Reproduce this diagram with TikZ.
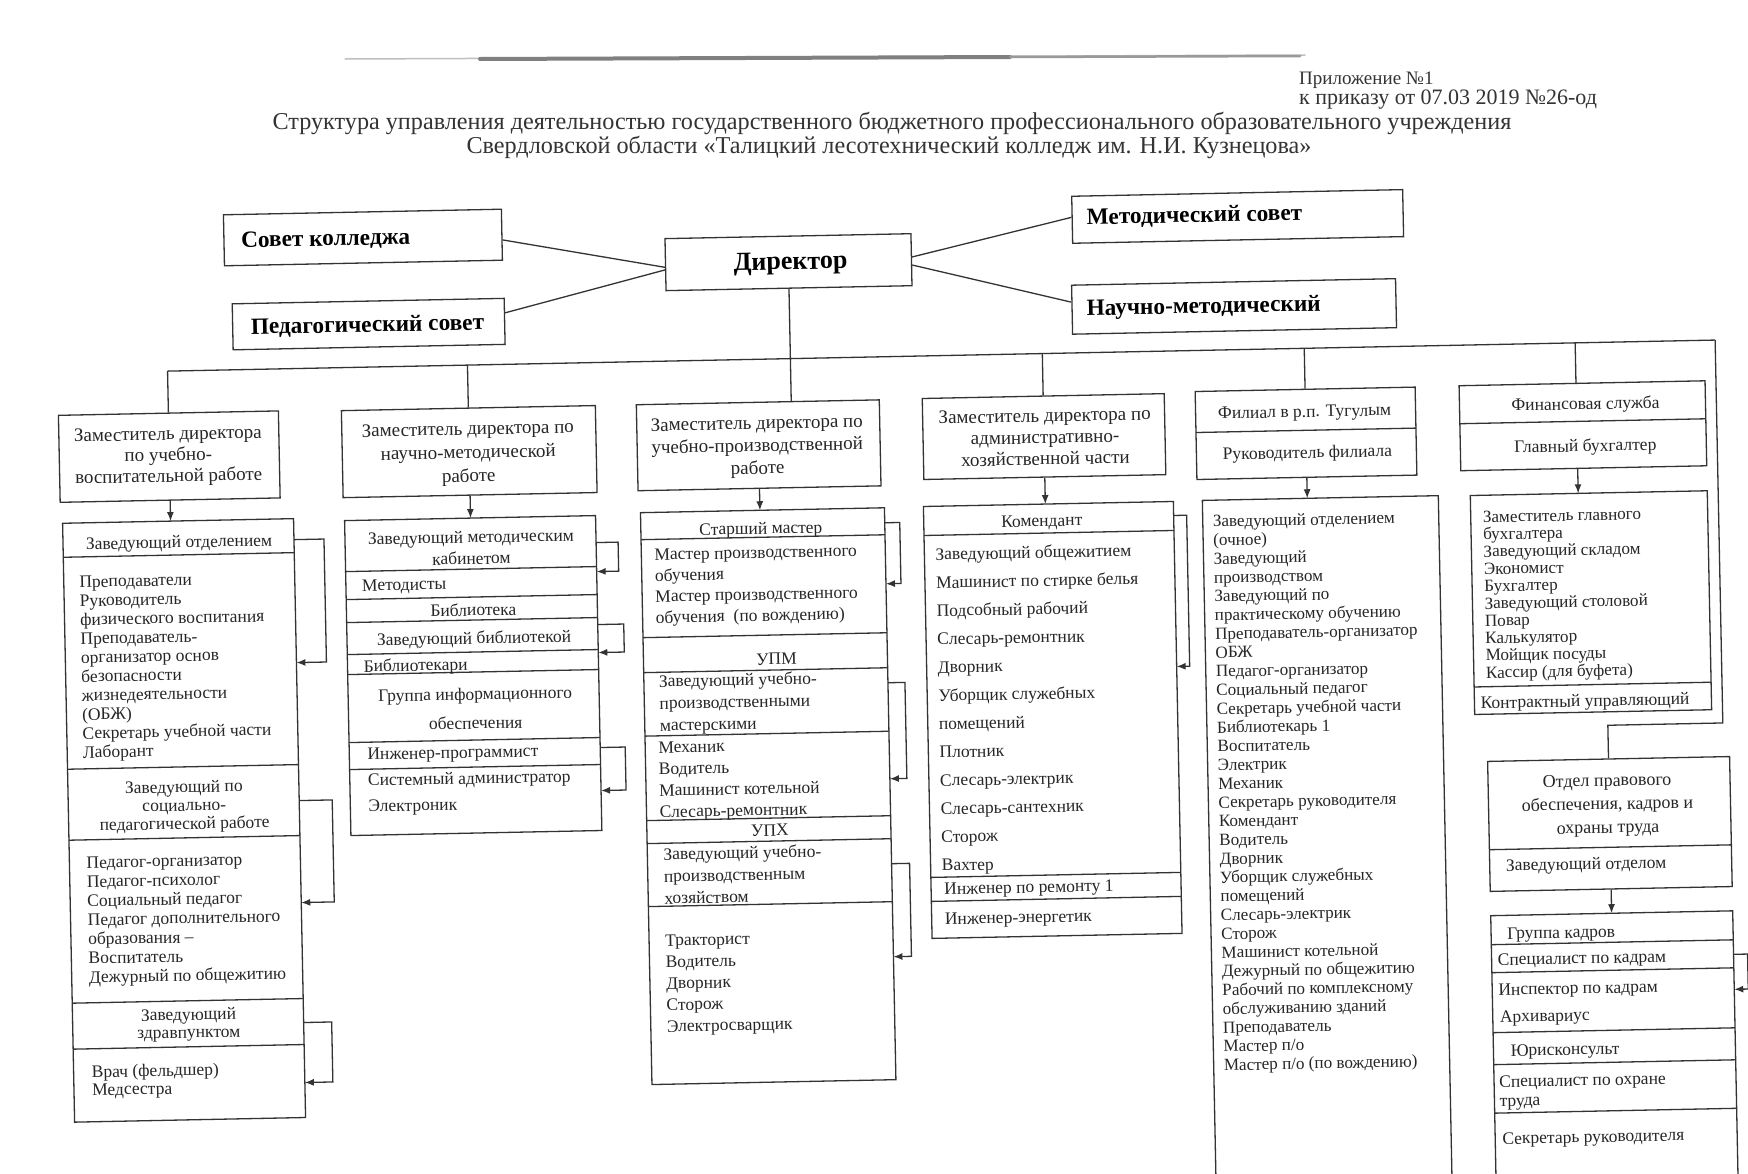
\documentclass[tikz,border=0pt]{standalone}
\usepackage{fontspec}
\setmainfont{Liberation Serif}
\usetikzlibrary{arrows.meta,calc}
\newcommand\tlines[6]{%
  \foreach \mytxt [count=\myi from 0] in {#6}{%
    \node[#2] (#1\myi) at (#3,{#4+\myi*#5}) {\mytxt};}}
\begin{document}
\begin{tikzpicture}[x=1pt,y=-1pt,
  ln/.style={line width=1.3pt, draw=black!80},
  box/.style={ln, rectangle, inner sep=0pt},
  arr/.style={ln, -{Latex[length=9pt,width=7pt]}},
  tx/.style={inner sep=0pt, yshift=-4.5pt, text=black!85, font=\fontsize{17.5}{18}\selectfont},
  txw/.style={tx, anchor=mid west},
  txs/.style={tx, anchor=mid west, font=\fontsize{17.1}{18}\selectfont},
  txc/.style={tx, anchor=mid},
  zt/.style={tx, anchor=mid, font=\fontsize{19}{20}\selectfont},
  bt/.style={inner sep=0pt, yshift=-4.5pt, text=black, font=\bfseries\fontsize{23.3}{24}\selectfont},
  ht/.style={inner sep=0pt, yshift=-4.5pt, text=black!80, font=\fontsize{20}{20}\selectfont},
]
\useasboundingbox (0,0) rectangle (1748,1173);
\fill[white] (0,0) rectangle (1748,1173);
\clip (0,0) rectangle (1748,1173);

% header (scan smudge and texts)
\draw[line width=1.5pt, black!25, line cap=round] (345,59) -- (1305,55);
\draw[line width=4pt, black!50, line cap=round] (480,59) -- (1010,57);
\draw[line width=2.5pt, black!40, line cap=round] (1010,57) -- (1300,56);
\node[ht, anchor=mid west, font=\fontsize{19}{19}\selectfont] (appx1) at (1299,78) {Приложение №1};
\node[ht, anchor=mid west, font=\fontsize{22}{22}\selectfont] (appx2) at (1299,98) {к приказу от 07.03 2019 №26-од};
\node[ht, anchor=mid, font=\fontsize{24.2}{24}\selectfont] (title1) at (892,123) {Структура управления деятельностью государственного бюджетного профессионального образовательного учреждения};
\node[ht, anchor=mid, font=\fontsize{24.2}{24}\selectfont] (title2) at (889,147) {Свердловской области «Талицкий лесотехнический колледж им. Н.И. Кузнецова»};

\begin{scope}[rotate around={1.15:(874,586)}, transform shape]
% ---------- top level ----------
\node[box, minimum width=278, minimum height=51] (sovet) at (370,227.3) {};
\node[bt, anchor=mid west] (sovetT) at (248,228) {Совет колледжа};
\node[box, minimum width=272, minimum height=46] (ped) at (374,314) {};
\node[bt, anchor=mid west] (pedT) at (256,315) {Педагогический совет};
\node[box, minimum width=246, minimum height=52] (dir) at (795,260.5) {};
\node[bt, anchor=mid, font=\bfseries\fontsize{26}{26}\selectfont] (dirT) at (797,261) {Директор};
\node[box, minimum width=331, minimum height=47] (metod) at (1245,223.8) {};
\node[bt, anchor=mid west] (metodT) at (1094,222) {Методический совет};
\node[box, minimum width=324, minimum height=49] (nauch) at (1239.6,313.7) {};
\node[bt, anchor=mid west] (nauchT) at (1092,313) {Научно-методический};

\draw[ln] ($(sovet.north east)!0.6!(sovet.south east)$) -- ($(dir.north west)!0.55!(dir.south west)$);
\draw[ln] ($(ped.north east)!0.32!(ped.south east)$) -- ($(dir.north west)!0.6!(dir.south west)$);
\draw[ln] ($(dir.north east)!0.45!(dir.south east)$) -- ($(metod.north west)!0.45!(metod.south west)$);
\draw[ln] ($(dir.north east)!0.6!(dir.south east)$) -- ($(nauch.north west)!0.35!(nauch.south west)$);

% ---------- bus ----------
\coordinate (busL) at (172,357);
\coordinate (busR) at (1720,357);
\coordinate (b2) at (472,357);
\coordinate (b4) at (1047,357);
\coordinate (b5) at (1309,357);
\coordinate (b6) at (1580,357);
\coordinate (zd3in) at (795,400);
\coordinate (f6in) at (1580,397.5);
\coordinate (rc1) at (1720,740);
\coordinate (rc2) at (1605,740);

% ---------- column 1 ----------
\node[box, minimum width=220, minimum height=87] (zd1) at (172,442.5) {};
\tlines{zd1t}{zt}{171}{419}{21}{Заместитель директора, по учебно-, воспитательной работе}
\node[box, minimum width=231, minimum height=599] (l1) at (179.5,806.5) {};
\foreach \yy in {541,753,824,987,1033} \draw[ln] (64,\yy) -- (295,\yy);
\node[txc] (l1h) at (180,527) {Заведующий отделением};
\tlines{l1a}{txw}{79.5}{564.7}{18.96}{Преподаватели, Руководитель, физического воспитания, Преподаватель-, организатор основ, безопасности, жизнедеятельности, (ОБЖ), Секретарь учебной части, Лаборант}
\tlines{l1b}{txc}{180}{772}{18.3}{Заведующий по, социально-, педагогической работе}
\tlines{l1c}{txw}{81}{845.6}{19.13}{Педагог-организатор, Педагог-психолог, Социальный педагог, Педагог дополнительного, образования –, Воспитатель, Дежурный по общежитию}
\tlines{l1d}{txc}{180}{999.5}{17.8}{Заведующий, здравпунктом}
\tlines{l1e}{txw}{82}{1055}{18}{Врач (фельдшер), Медсестра}

% ---------- column 2 ----------
\node[box, minimum width=254, minimum height=87] (zd2) at (472,443.5) {};
\tlines{zd2t}{zt}{471}{420}{23.5}{Заместитель директора по, научно-методической, работе}
\node[box, minimum width=251, minimum height=315] (l2) at (471.5,667.5) {};
\foreach \yy in {561,589,612,644,664,732,759} \draw[ln] (346,\yy) -- (597,\yy);
\tlines{l2a}{txc}{472}{528}{21.5}{Заведующий методическим, кабинетом}
\node[txw] (l2b) at (362,574) {Методисты};
\node[txc] (l2c) at (473,601) {Библиотека};
\node[txc] (l2d) at (473,629) {Заведующий библиотекой};
\node[txw] (l2e) at (362,655) {Библиотекари};
\tlines{l2f}{txc}{473}{685}{29}{Группа информационного, обеспечения}
\node[txw] (l2g) at (364,743) {Инженер-программист};
\tlines{l2h}{txw}{364}{769}{26}{Системный администратор, Электроник}

% ---------- column 3 ----------
\node[box, minimum width=243, minimum height=86] (zd3) at (761.5,443) {};
\tlines{zd3t}{zt}{760}{420}{22.5}{Заместитель директора по, учебно-производственной, работе}
\node[box, minimum width=244, minimum height=572] (l3) at (764,794) {};
\foreach \yy in {535,633,668,731.5,816,839,902} \draw[ln] (642,\yy) -- (886,\yy);
\node[txc] (l3h) at (762,525) {Старший мастер};
\tlines{l3a}{txw}{655}{549}{21}{Мастер производственного, обучения, Мастер производственного, обучения\ \ (по вождению)}
\node[txc] (l3u) at (775,656) {УПМ};
\tlines{l3b}{txw}{657}{676}{22}{Заведующий учебно-, производственными, мастерскими}
\tlines{l3c}{txw}{655}{742}{21.5}{Механик, Водитель, Машинист котельной, Слесарь-ремонтник}
\node[txc] (l3x) at (765,827) {УПХ};
\tlines{l3d}{txw}{658}{849}{22}{Заведующий учебно-, производственным, хозяйством}
\tlines{l3e}{txw}{658}{935}{21.5}{Тракторист, Водитель, Дворник, Сторож, Электросварщик}

% ---------- column 4 ----------
\node[box, minimum width=242, minimum height=81] (zd4) at (1047,440) {};
\tlines{zd4t}{zt}{1048}{418.5}{21.5}{Заместитель директора по, административно-, хозяйственной части}
\node[box, minimum width=250, minimum height=432] (l4) at (1050,723.5) {};
\foreach \yy in {536.5,878.5,902.5} \draw[ln] (925,\yy) -- (1175,\yy);
\node[txc] (l4h) at (1043,523) {Комендант};
\tlines{l4a}{txw}{936}{554.5}{28.27}{Заведующий общежитием, Машинист по стирке белья, Подсобный рабочий, Слесарь-ремонтник, Дворник, Уборщик служебных, помещений, Плотник, Слесарь-электрик, Слесарь-сантехник, Сторож, Вахтер}
\node[txw] (l4b) at (938,889) {Инженер по ремонту 1};
\node[txw] (l4c) at (938,919) {Инженер-энергетик};

% ---------- column 5 ----------
\node[box, minimum width=220, minimum height=88] (fil) at (1309,442) {};
\draw[ln] (1199,439) -- (1419,439);
\node[txc] (filT) at (1308,419) {Филиал в р.п. Тугулым};
\node[txc] (filR) at (1310,460) {Руководитель филиала};
\node[box, minimum width=236, minimum height=693] (l5) at (1322,853.5) {};
\tlines{l5a}{txs}{1214}{527}{18.75}{Заведующий отделением, (очное), Заведующий, производством, Заведующий по, практическому обучению, Преподаватель-организатор, ОБЖ, Педагог-организатор, Социальный педагог, Секретарь учебной части, Библиотекарь 1, Воспитатель, Электрик, Механик, Секретарь руководителя, Комендант, Водитель, Дворник, Уборщик служебных, помещений, Слесарь-электрик, Сторож, Машинист котельной, Дежурный по общежитию, Рабочий по комплексному, обслуживанию зданий, Преподаватель, Мастер п/о, Мастер п/о (по вождению)}

% ---------- column 6 ----------
\node[box, minimum width=246, minimum height=85] (fin) at (1586,440) {};
\draw[ln] (1463,435.5) -- (1709,435.5);
\node[txc] (finT) at (1589,417) {Финансовая служба};
\node[txc] (finG) at (1588,459) {Главный бухгалтер};
\node[box, minimum width=237, minimum height=219] (l6) at (1590.5,617) {};
\draw[ln] (1472,699) -- (1709,699);
\tlines{l6a}{txs}{1484}{528}{17.3}{Заместитель главного, бухгалтера, Заведующий складом, Экономист, Бухгалтер, Заведующий столовой, Повар, Калькулятор, Мойщик посуды, Кассир (для буфета)}
\node[txw] (l6b) at (1478,714) {Контрактный управляющий};

\node[box, minimum width=242, minimum height=130] (otd) at (1605,838.7) {};
\draw[ln] (1484,862) -- (1726,862);
\tlines{otdT}{tx, anchor=mid, font=\fontsize{18}{18}\selectfont}{1603}{794}{23.5}{Отдел правового, {обеспечения, кадров и}, охраны труда}
\node[txw] (otdZ) at (1500,877) {Заведующий отделом};
\node[box, minimum width=242, minimum height=272] (l7) at (1605,1064) {};
\foreach \yy in {957,985,1045,1077,1125.5} \draw[ln] (1484,\yy) -- (1726,\yy);
\node[txw] (l7a) at (1500,945) {Группа кадров};
\node[txw] (l7b) at (1490,971) {Специалист по кадрам};
\node[txw] (l7c) at (1490,1001) {Инспектор по кадрам};
\node[txw] (l7d) at (1491,1028) {Архивариус};
\node[txw] (l7e) at (1501,1062) {Юрисконсульт};
\tlines{l7f}{txw}{1489}{1093}{19}{Специалист по охране, труда}
\node[txw] (l7g) at (1491,1150) {Секретарь руководителя};

% ---------- connectors ----------
\draw[ln] (busL) -- (busR);
\draw[ln] (busL) -- (zd1.north);
\draw[ln] (b2) -- (zd2.north);
\draw[ln] (dir.south) -- (zd3in);
\draw[ln] (b4) -- (zd4.north);
\draw[ln] (b5) -- (fil.north);
\draw[ln] (b6) -- (f6in);
\draw[ln] (busR) -- (rc1) -- (rc2) -- (otd.north);

\coordinate (a1) at (172,507);
\coordinate (a2) at (472,510);
\coordinate (a3) at (761.5,508);
\coordinate (a4) at (1047,507.5);
\coordinate (a5) at (1309,507);
\coordinate (a6s) at (1580,482.5);
\coordinate (a6) at (1580,507.5);
\coordinate (a7) at (1605,928);
\draw[arr] (zd1.south) -- (a1);
\draw[arr] (zd2.south) -- (a2);
\draw[arr] (zd3.south) -- (a3);
\draw[arr] (zd4.south) -- (a4);
\draw[arr] (fil.south) -- (a5);
\draw[arr] (a6s) -- (a6);
\draw[arr] (otd.south) -- (a7);

% side loops
\draw[arr] (295,528) -- (325,528) -- (325,651) -- (295,651);
\draw[arr] (295,789) -- (328,789) -- (328,891) -- (295,891);
\draw[arr] (295,1011) -- (323,1011) -- (323,1071) -- (295,1071);
\draw[arr] (597,537) -- (619,537) -- (619,566) -- (597,566);
\draw[arr] (597,619) -- (623,619) -- (623,647) -- (597,647);
\draw[arr] (597,742) -- (622,742) -- (622,785) -- (597,785);
\draw[arr] (886,523) -- (901,523) -- (901,584) -- (886,584);
\draw[arr] (886,683) -- (903,683) -- (903,779) -- (886,779);
\draw[arr] (886,864) -- (904,864) -- (904,957) -- (886,957);
\draw[arr] (1175,521.5) -- (1188,521.5) -- (1188,672.5) -- (1175,672.5);
\draw[arr] (1726,971.5) -- (1740,971.5) -- (1740,1006.5) -- (1726,1006.5);
\end{scope}
\end{tikzpicture}
\end{document}
